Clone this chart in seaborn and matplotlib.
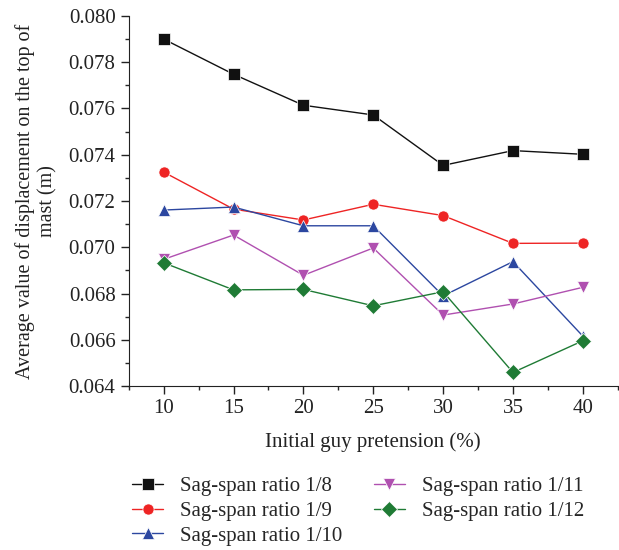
import matplotlib
matplotlib.use("Agg")
import matplotlib.pyplot as plt
from matplotlib.ticker import MultipleLocator
import seaborn as sns
import pandas as pd

pretension = [10, 15, 20, 25, 30, 35, 40]
ratio_1_8 = [0.0790, 0.07748, 0.07614, 0.07572, 0.07354, 0.07418, 0.07402]
ratio_1_9 = [0.07325, 0.07165, 0.07118, 0.07186, 0.07137, 0.07017, 0.07018]
ratio_1_10 = [0.07161, 0.07174, 0.07093, 0.07093, 0.06790, 0.06938, 0.06616]
ratio_1_11 = [0.06948, 0.07053, 0.06879, 0.06997, 0.06707, 0.06755, 0.06827]
ratio_1_12 = [0.06933, 0.06816, 0.06818, 0.06747, 0.06808, 0.06459, 0.06596]

labels = ["Sag-span ratio 1/8", "Sag-span ratio 1/9", "Sag-span ratio 1/10",
          "Sag-span ratio 1/11", "Sag-span ratio 1/12"]
series = [ratio_1_8, ratio_1_9, ratio_1_10, ratio_1_11, ratio_1_12]

rows = []
for lab, vals in zip(labels, series):
    for x, v in zip(pretension, vals):
        rows.append({"pretension": x, "disp": v, "series": lab})
df = pd.DataFrame(rows)

sns.set_style("ticks")
plt.rcParams["font.family"] = ["Liberation Serif", "DejaVu Serif"]

palette = dict(zip(labels, ["#111111", "#EE2424", "#2C47A0", "#B050B0", "#1F7B35"]))
markers = dict(zip(labels, ["s", "o", "^", "v", "D"]))

fig = plt.figure(figsize=(6.19, 5.5), dpi=100)
ax = fig.add_axes([0.208, 0.298, 0.79, 0.673])

sns.lineplot(data=df, x="pretension", y="disp", hue="series", style="series",
             palette=palette, markers=markers, dashes=False, markersize=8,
             markeredgewidth=0.5, linewidth=1.0, ax=ax, legend="full")

ax.set_xlim(7.5, 42.5)
ax.set_ylim(0.064, 0.080)
ax.xaxis.set_major_locator(MultipleLocator(5))
ax.xaxis.set_minor_locator(MultipleLocator(2.5))
ax.yaxis.set_major_locator(MultipleLocator(0.002))
ax.yaxis.set_minor_locator(MultipleLocator(0.001))
ax.yaxis.set_major_formatter(matplotlib.ticker.FormatStrFormatter("%.3f"))
ax.tick_params(which="major", length=6, width=1, labelsize=15, colors="#222222")
ax.tick_params(which="minor", length=3, width=1)
sns.despine(ax=ax)
for s in ["left", "bottom"]:
    ax.spines[s].set_color("#222222")

ax.set_xlabel("Initial guy pretension (%)", fontsize=15, color="#222222", labelpad=10)
ax.set_ylabel("Average value of displacement on the top of\nmast (m)", fontsize=14.5,
              color="#222222", labelpad=8, linespacing=1.25)

handles, labs = ax.get_legend_handles_labels()
ax.legend(handles, labs, loc="upper left", bbox_to_anchor=(-0.01, -0.222), ncol=2,
          frameon=False, fontsize=15, handlelength=1.5, columnspacing=1.5,
          labelspacing=0.25, handletextpad=0.8, borderaxespad=0.0)

fig.savefig("out.png", dpi=100)
